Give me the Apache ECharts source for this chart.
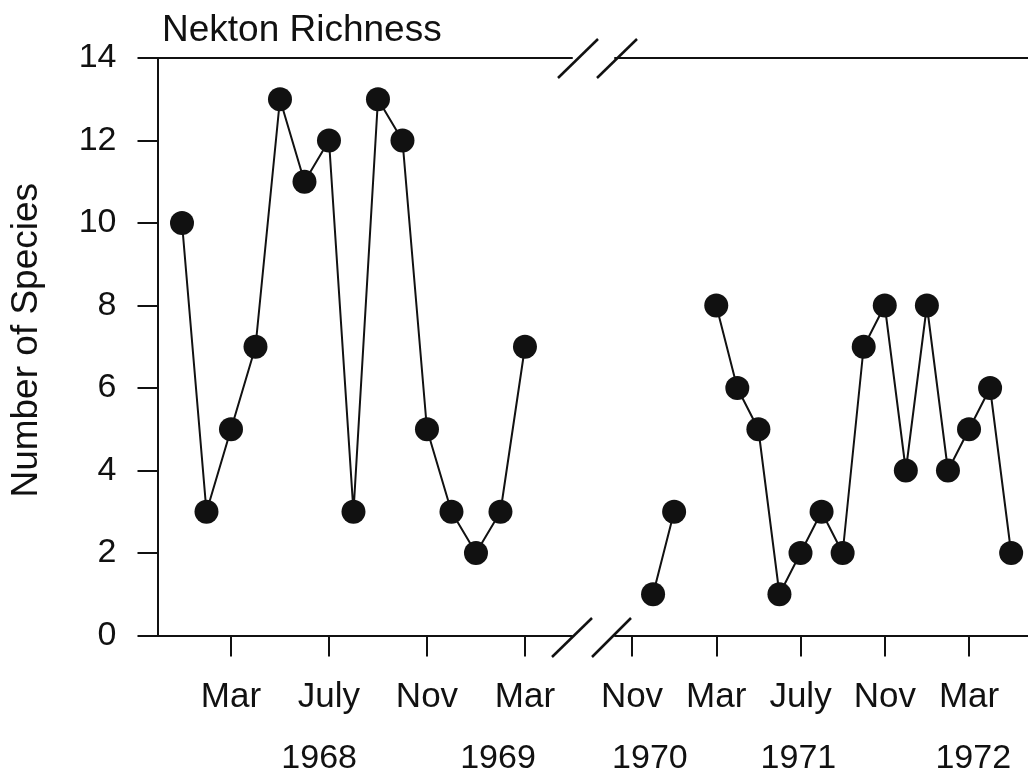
<!DOCTYPE html>
<html>
<head>
<meta charset="utf-8">
<script src="https://cdn.jsdelivr.net/npm/echarts@6/dist/echarts.min.js"></script>
<style>
html,body{margin:0;padding:0;background:#fff;}
#chart{width:1028px;height:776px;}
</style>
</head>
<body>
<div id="chart"></div>
<script>
// ---- Data ----
const leftDates = ['1968-01','1968-02','1968-03','1968-04','1968-05','1968-06','1968-07','1968-08','1968-09','1968-10','1968-11','1968-12','1969-01','1969-02','1969-03'];
const leftCounts = [10, 3, 5, 7, 13, 11, 12, 3, 13, 12, 5, 3, 2, 3, 7];

const rightDates = ['1970-12','1971-01','1971-02','1971-03','1971-04','1971-05','1971-06','1971-07','1971-08','1971-09','1971-10','1971-11','1971-12','1972-01','1972-02','1972-03','1972-04','1972-05'];
const rightCounts = [1, 3, null, 8, 6, 5, 1, 2, 3, 2, 7, 8, 4, 8, 4, 5, 6, 2];

const leftTickDates = ['1968-03','1968-07','1968-11','1969-03'];
const leftTickLabels = ['Mar','July','Nov','Mar'];
const rightTickDates = ['1970-11','1971-03','1971-07','1971-11','1972-03'];
const rightTickLabels = ['Nov','Mar','July','Nov','Mar'];

const leftYearLabels = ['1968','1969'];
const rightYearLabels = ['1970','1971','1972'];
const yTicks = [0, 2, 4, 6, 8, 10, 12, 14];

// ---- Layout (month-index positions for year captions) ----
const leftYearPos = [5.6, 12.9];
const rightYearPos = [34.85, 41.9, 50.2];

function monthIndex(d) {
  const [y, m] = d.split('-').map(Number);
  return (y - 1968) * 12 + (m - 1);
}
function pairs(dates, vals) {
  return dates.map((d, i) => [monthIndex(d), vals[i]]);
}
function labelMap(vals, labels) {
  const map = {};
  vals.forEach((v, i) => { map[v.toFixed(3)] = labels[i]; });
  return v => map[Number(v).toFixed(3)] || '';
}

const ink = '#111111';
const font = 'Liberation Sans, Arial, sans-serif';

const leftTickVals = leftTickDates.map(monthIndex);
const rightTickVals = rightTickDates.map(monthIndex);

const L = { min: -1.0, max: 15.92 };
const R = { min: 33.193, max: 52.80 };

function monthAxis(grid, rng, vals, labels) {
  return {
    type: 'value', gridIndex: grid, position: 'bottom', min: rng.min, max: rng.max,
    axisLine: { show: true, onZero: false, lineStyle: { color: ink, width: 2 } },
    axisTick: { show: true, customValues: vals, length: 21, lineStyle: { color: ink, width: 2 } },
    axisLabel: { show: true, customValues: vals, formatter: labelMap(vals, labels),
      fontSize: 35, fontFamily: font, color: ink, margin: 44 },
    splitLine: { show: false }
  };
}
function yearAxis(grid, rng, vals, labels) {
  return {
    type: 'value', gridIndex: grid, position: 'bottom', min: rng.min, max: rng.max,
    axisLine: { show: false }, axisTick: { show: false },
    axisLabel: { show: true, customValues: vals, formatter: labelMap(vals, labels),
      fontSize: 34, fontFamily: font, color: ink, margin: 106 },
    splitLine: { show: false }
  };
}
function topAxis(grid, rng) {
  return {
    type: 'value', gridIndex: grid, position: 'top', min: rng.min, max: rng.max,
    axisLine: { show: true, onZero: false, lineStyle: { color: ink, width: 2 } },
    axisTick: { show: false }, axisLabel: { show: false }, splitLine: { show: false }
  };
}

const chart = echarts.init(document.getElementById('chart'), null, { renderer: 'canvas' });

const slash = (x1, y1, x2, y2) => ({
  type: 'line', shape: { x1, y1, x2, y2 },
  style: { stroke: ink, lineWidth: 2.5 }, silent: true
});

chart.setOption({
  animation: false,
  backgroundColor: '#ffffff',
  title: {
    text: 'Nekton Richness', left: 157, top: 7,
    textStyle: { fontSize: 37, fontWeight: 'normal', fontFamily: font, color: ink }
  },
  grid: [
    { left: 157.5, top: 58, width: 414.5, height: 577.5 },
    { left: 615, top: 58, width: 413, height: 577.5 }
  ],
  xAxis: [
    monthAxis(0, L, leftTickVals, leftTickLabels),
    yearAxis(0, L, leftYearPos, leftYearLabels),
    topAxis(0, L),
    monthAxis(1, R, rightTickVals, rightTickLabels),
    yearAxis(1, R, rightYearPos, rightYearLabels),
    topAxis(1, R)
  ],
  yAxis: [
    {
      type: 'value', gridIndex: 0, min: 0, max: 14, interval: 2,
      name: 'Number of Species', nameLocation: 'middle', nameGap: 112,
      nameTextStyle: { fontSize: 37, fontFamily: font, color: ink, padding: [0, 0, 0, 13] },
      axisLine: { show: true, onZero: false, lineStyle: { color: ink, width: 2 } },
      axisTick: { show: true, customValues: yTicks, length: 20, lineStyle: { color: ink, width: 2 } },
      axisLabel: { show: true, customValues: yTicks, fontSize: 34, fontFamily: font, color: ink, margin: 41 },
      splitLine: { show: false }
    },
    {
      type: 'value', gridIndex: 1, min: 0, max: 14, interval: 2, show: false,
      axisLine: { onZero: false },
      splitLine: { show: false }
    }
  ],
  graphic: [
    slash(558, 78, 598, 39),
    slash(597, 78, 637, 39),
    slash(552, 657, 592, 618),
    slash(592, 657, 631, 618)
  ],
  series: [
    {
      type: 'line', xAxisIndex: 0, yAxisIndex: 0,
      data: pairs(leftDates, leftCounts),
      symbol: 'circle', symbolSize: 24, showSymbol: true, clip: false,
      itemStyle: { color: ink },
      lineStyle: { color: ink, width: 2 },
      connectNulls: false
    },
    {
      type: 'line', xAxisIndex: 3, yAxisIndex: 1,
      data: pairs(rightDates, rightCounts),
      symbol: 'circle', symbolSize: 24, showSymbol: true, clip: false,
      itemStyle: { color: ink },
      lineStyle: { color: ink, width: 2 },
      connectNulls: false
    }
  ]
});
</script>
</body>
</html>
